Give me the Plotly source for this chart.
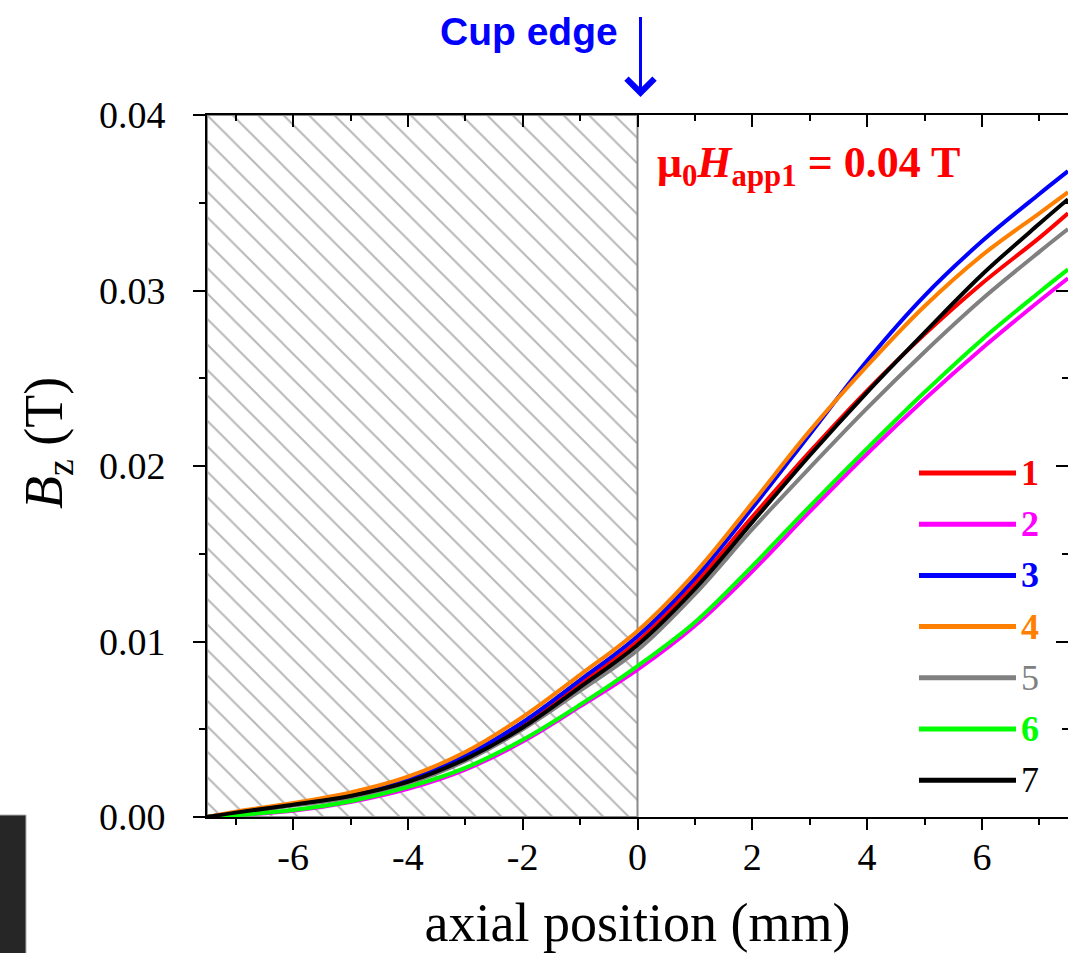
import plotly.graph_objects as go

# ---------------- data ----------------
x_mm = [-7.5, -7, -6, -5, -4, -3, -2, -1, 0, 1, 2, 3, 4, 5, 6, 7, 7.5]

bz_1 = [0.0000, 0.00025, 0.0007, 0.0012, 0.0021, 0.0034, 0.0052, 0.0076, 0.0100, 0.0133, 0.0171, 0.0208, 0.0243, 0.0275, 0.0304, 0.0330, 0.0344]
bz_2 = [0.0000, 0.0001, 0.00035, 0.00085, 0.0016, 0.0027, 0.0043, 0.0063, 0.0084, 0.0109, 0.0140, 0.0174, 0.0207, 0.0238, 0.0267, 0.0294, 0.0307]
bz_3 = [0.0000, 0.00025, 0.00075, 0.0013, 0.0022, 0.0035, 0.0054, 0.0078, 0.0103, 0.0136, 0.0176, 0.0218, 0.0260, 0.0297, 0.0328, 0.0355, 0.0368]
bz_4 = [0.0000, 0.0003, 0.0008, 0.0014, 0.0023, 0.0037, 0.0057, 0.0081, 0.0106, 0.0139, 0.0179, 0.0220, 0.0257, 0.0291, 0.0320, 0.0344, 0.0356]
bz_5 = [0.0000, 0.0002, 0.00065, 0.0011, 0.0019, 0.0032, 0.0050, 0.0072, 0.0095, 0.0127, 0.0164, 0.0199, 0.0233, 0.0265, 0.0295, 0.0322, 0.0335]
bz_6 = [0.0000, 0.0001, 0.0004, 0.0009, 0.0017, 0.0028, 0.0044, 0.0064, 0.0086, 0.0111, 0.0143, 0.0177, 0.0210, 0.0242, 0.0272, 0.0299, 0.0312]
bz_7 = [0.0000, 0.00025, 0.0007, 0.0012, 0.0020, 0.0033, 0.0051, 0.0074, 0.0098, 0.0130, 0.0168, 0.0206, 0.0242, 0.0276, 0.0309, 0.0338, 0.0352]

series_names = ["1", "2", "3", "4", "5", "6", "7"]
series_values = [bz_1, bz_2, bz_3, bz_4, bz_5, bz_6, bz_7]

cup_start_mm = -7.5   # cup region (hatched)
cup_edge_mm = 0.0     # cup edge position
x_range = [-7.5, 7.5]
y_range = [0.0, 0.04]
x_tickvals = [-6, -4, -2, 0, 2, 4, 6]
x_ticktext = ["-6", "-4", "-2", "0", "2", "4", "6"]
field_label = "<b>μ<sub>0</sub><i>H</i><sub>app1</sub> = 0.04 T</b>"

# ---------------- styles ----------------
colors = ["#ff0000", "#ff00ff", "#0000ff", "#ff8000", "#808080", "#00ff00", "#000000"]
bold_label = [True, True, True, True, False, True, False]

W, H = 1068, 953
L, R, T, B = 207, 1068, 115, 817


def pxx(xp):
    return (xp - L) / (R - L)


def pxy(yp):
    return (B - yp) / (B - T)


SERIF = "Liberation Serif, Times New Roman, serif"
SANS = "Liberation Sans, Arial, sans-serif"

fig = go.Figure()

# hatched cup region
fig.add_trace(go.Scatter(
    x=[cup_start_mm, cup_edge_mm, cup_edge_mm, cup_start_mm, cup_start_mm],
    y=[y_range[0], y_range[0], y_range[1], y_range[1], y_range[0]],
    mode="lines", fill="toself", fillcolor="rgba(255,255,255,0)",
    fillpattern=dict(shape="\\", fgcolor="#707070", bgcolor="rgba(255,255,255,0)",
                     size=18, solidity=0.11, fillmode="overlay"),
    line=dict(color="#8a8a8a", width=2),
    showlegend=False, hoverinfo="skip"))

for name, vals, col in zip(series_names, series_values, colors):
    fig.add_trace(go.Scatter(
        x=x_mm, y=vals, mode="lines", name=name,
        line=dict(color=col, width=4, shape="spline", smoothing=1.0),
        showlegend=False))

# dummy traces for extra tick axes (top, right, bottom ticks)
fig.add_trace(go.Scatter(x=[None], y=[None], xaxis="x2", yaxis="y2",
                         showlegend=False, hoverinfo="skip"))
fig.add_trace(go.Scatter(x=[None], y=[None], xaxis="x3", yaxis="y",
                         showlegend=False, hoverinfo="skip"))

tickfont = dict(family=SERIF, size=38, color="black")
tk = dict(tickwidth=2, tickcolor="black", showgrid=False, zeroline=False)

fig.update_layout(
    width=W, height=H,
    margin=dict(l=L, r=W - R, t=T, b=H - B, pad=0),
    paper_bgcolor="white", plot_bgcolor="white",
    showlegend=False,
    xaxis=dict(range=x_range, tickvals=x_tickvals, ticktext=x_ticktext, ticks="",
               showline=True, linecolor="black", linewidth=2, mirror=True,
               showgrid=False, zeroline=False, tickfont=tickfont, ticklabelstandoff=5,
               title=dict(text="axial position (mm)", font=dict(family=SERIF, size=54, color="black"),
                          standoff=27)),
    xaxis3=dict(range=x_range, overlaying="x", side="bottom", tick0=0, dtick=2, ticks="outside",
                ticklen=12, showticklabels=False, showline=False,
                minor=dict(dtick=1, ticks="outside", ticklen=7, tickwidth=2, tickcolor="black"), **tk),
    yaxis=dict(range=y_range, tick0=0, dtick=0.01, tickformat=".2f", ticks="outside", ticklen=12,
               showline=True, linecolor="black", linewidth=2,
               mirror=False, tickfont=tickfont, ticklabelstandoff=20,
               minor=dict(dtick=0.005, ticks="outside", ticklen=6, tickwidth=2, tickcolor="black"), **tk),
    xaxis2=dict(range=x_range, overlaying="x", side="top", tick0=0, dtick=2, ticks="inside",
                ticklen=12, showticklabels=False, showline=False,
                minor=dict(dtick=1, ticks="inside", ticklen=6, tickwidth=2, tickcolor="black"), **tk),
    yaxis2=dict(range=y_range, overlaying="y", side="right", tick0=0, dtick=0.01, ticks="inside",
                ticklen=12, showticklabels=False, showline=False,
                minor=dict(dtick=0.005, ticks="inside", ticklen=6, tickwidth=2, tickcolor="black"), **tk),
)

annotations = []
shapes = []

# y axis title
annotations.append(dict(text="<i>B</i><sub>z</sub> (T)", xref="paper", yref="paper",
                        x=pxx(47), y=pxy(443), showarrow=False, textangle=-90,
                        font=dict(family=SERIF, size=54, color="black"),
                        xanchor="center", yanchor="middle"))

# field label
annotations.append(dict(text=field_label, xref="paper", yref="paper", x=pxx(655), y=pxy(165),
                        showarrow=False, xanchor="left", yanchor="middle",
                        font=dict(family=SERIF, size=44, color="#ff0000")))

# cup edge label and arrow
annotations.append(dict(text="<b>Cup edge</b>", xref="paper", yref="paper", x=pxx(529), y=pxy(32),
                        showarrow=False, xanchor="center", yanchor="middle",
                        font=dict(family=SANS, size=39, color="#0000ff")))
annotations.append(dict(text=" ", x=cup_edge_mm, xref="x", y=pxy(97), yref="paper",
                        showarrow=True, ax=0, ay=-90, axref="pixel", ayref="pixel",
                        arrowcolor="#0000ff", arrowwidth=3, arrowhead=4, arrowsize=1.8,
                        xshift=3))

# custom legend
for i, (name, col, bold) in enumerate(zip(series_names, colors, bold_label)):
    yy = pxy(473 + i * 51.2)
    shapes.append(dict(type="line", xref="paper", yref="paper", x0=pxx(919), x1=pxx(1016),
                       y0=yy, y1=yy, line=dict(color=col, width=5)))
    txt = f"<b>{name}</b>" if bold else name
    annotations.append(dict(text=txt, xref="paper", yref="paper", x=pxx(1019), y=yy,
                            showarrow=False, xanchor="left", yanchor="middle",
                            font=dict(family=SERIF, size=36, color=col)))

# dark block at bottom-left corner
shapes.append(dict(type="rect", xref="paper", yref="paper", x0=pxx(-2), x1=pxx(26),
                   y0=pxy(960), y1=pxy(815), fillcolor="#262626",
                   line=dict(color="#b0b0b0", width=1), layer="above"))

fig.update_layout(annotations=annotations, shapes=shapes)

fig.write_html("out.html")
